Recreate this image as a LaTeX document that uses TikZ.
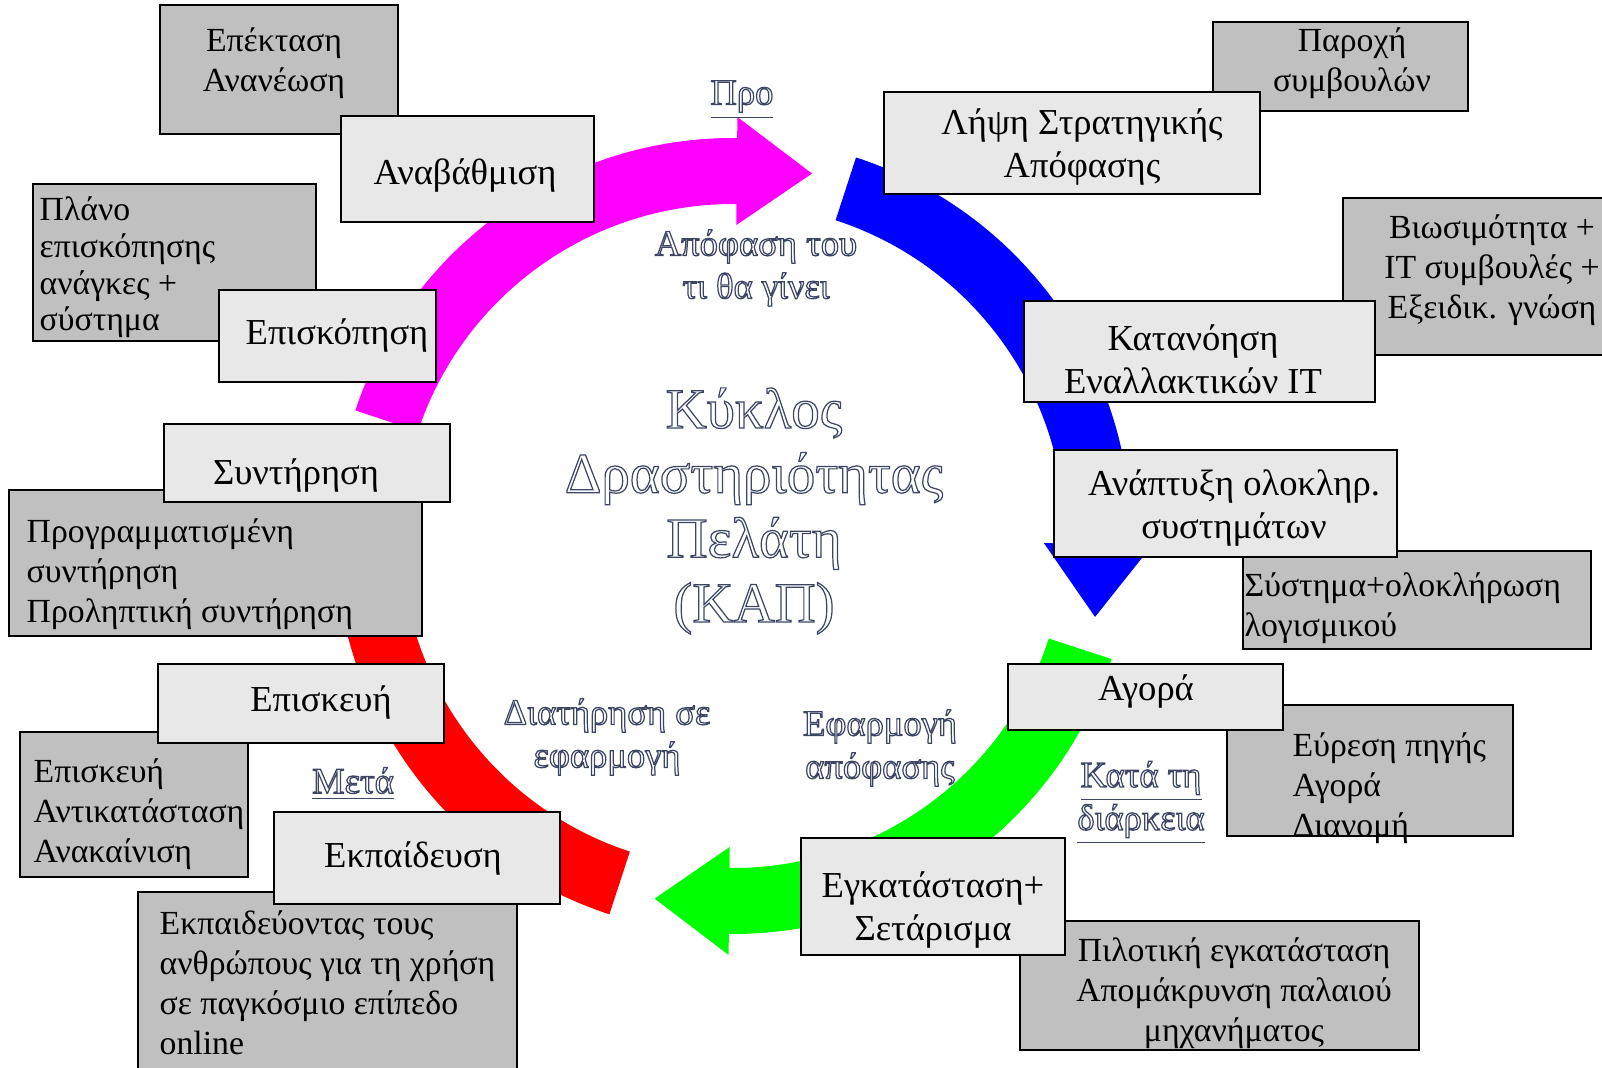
\documentclass[tikz,border=0pt]{standalone}
\usepackage{fontspec}
\setmainfont{Liberation Serif}
\usetikzlibrary{calc,positioning}
\definecolor{boxgrey}{RGB}{192,192,192}
\definecolor{boxlight}{RGB}{232,232,232}
\definecolor{rim}{RGB}{60,70,100}
\definecolor{ringmag}{RGB}{255,0,255}
\definecolor{ringblue}{RGB}{0,0,255}
\definecolor{ringgreen}{RGB}{0,255,0}
\definecolor{ringred}{RGB}{255,0,0}
\newcommand{\hollowon}{\special{pdf:literal direct 1 Tr 0.35 w}}
\newcommand{\hollowoff}{\special{pdf:literal direct 0 Tr}}

\begin{document}
\begin{tikzpicture}[
  greybox/.style={draw, line width=0.7pt, fill=boxgrey, inner sep=0pt},
  lightbox/.style={draw, line width=0.7pt, fill=boxlight, inner sep=0pt},
  greytxt/.style={font=\fontsize{9.6}{11.4}\selectfont, align=left, inner sep=0pt},
  lighttxt/.style={font=\fontsize{10.4}{12.2}\selectfont, align=center, inner sep=0pt},
  hollow/.style={font=\fontsize{10.4}{12.2}\selectfont, align=center, inner sep=0pt, text=rim}]
\useasboundingbox (0,0) rectangle (16.02,-10.68);
\coordinate (c) at (7.33,-5.36);
% ring of arrows
\foreach \col/\s/\b/\t in {ringmag/161.6/89.4/77.7, ringblue/72/-1.3/-12.6, ringgreen/-18/-90.6/-102.2}
  \fill[\col] ($(c)+(\s:3.98)$) arc[start angle=\s, end angle=\b, radius=3.98] -- ($(c)+(\b:4.19)$) -- ($(c)+(\t:3.71)$) -- ($(c)+(\b:3.11)$) -- ($(c)+(\b:3.32)$) arc[start angle=\b, end angle=\s, radius=3.32] -- cycle;
\fill[ringred] ($(c)+(251.9:3.98)$) arc[start angle=251.9, end angle=190, radius=3.98] -- ($(c)+(190:3.32)$) arc[start angle=190, end angle=251.9, radius=3.32] -- cycle;
% outer grey boxes
\foreach \n/\x/\y/\w/\h in {ext/2.79/-0.695/2.38/1.29, adv/13.405/-0.665/2.55/0.89, plan/1.745/-2.625/2.83/1.57, viab/14.815/-2.765/2.77/1.57, sched/2.155/-5.63/4.13/1.46, sw/14.17/-6.0/3.48/0.98, rep/1.34/-8.045/2.28/1.45, src/13.70/-7.705/2.86/1.31, teach/3.275/-9.91/3.79/1.98, pilot/12.195/-9.855/3.99/1.29}
  \node[greybox, minimum width=\w cm, minimum height=\h cm] (\n) at (\x,\y) {};
% steps on the ring
\foreach \n/\x/\y/\w/\h in {upg/4.675/-1.69/2.53/1.06, strat/10.72/-1.43/3.76/1.02, rev/3.275/-3.36/2.17/0.92, alt/11.995/-3.515/3.51/1.01, maint/3.07/-4.63/2.86/0.78, integ/12.255/-5.035/3.43/1.07, fix/3.01/-7.035/2.86/0.79, buy/11.455/-6.97/2.75/0.66, train/4.17/-8.58/2.86/0.92, inst/9.33/-8.965/2.64/1.17}
  \node[lightbox, minimum width=\w cm, minimum height=\h cm] (\n) at (\x,\y) {};
% texts of grey boxes
\node[greytxt, align=center] (ext-t) at (2.74,-0.63) {Επέκταση\\Ανανέωση};
\node[greytxt, align=center] (adv-t) at (13.52,-0.63) {Παροχή\\συμβουλών};
\node[greytxt, anchor=west, font=\fontsize{9.6}{10.4}\selectfont] (plan-t) at (0.39,-2.675) {Πλάνο\\επισκόπησης\\ανάγκες +\\σύστημα};
\node[greytxt, align=center] (viab-t) at (14.92,-2.70) {Βιωσιμότητα +\\IT συμβουλές +\\Εξειδικ. γνώση};
\node[greytxt, anchor=west] (sched-t) at (0.26,-5.74) {Προγραμματισμένη\\συντήρηση\\Προληπτική συντήρηση};
\node[greytxt, anchor=west] (sw-t) at (12.44,-6.08) {Σύστημα+ολοκλήρωση\\λογισμικού};
\node[greytxt, anchor=west] (rep-t) at (0.33,-8.14) {Επισκευή\\Αντικατάσταση\\Ανακαίνιση};
\node[greytxt, anchor=west] (src-t) at (12.92,-7.88) {Εύρεση πηγής\\Αγορά\\Διανομή};
\node[greytxt, anchor=west] (teach-t) at (1.59,-9.83) {Εκπαιδεύοντας τους\\ανθρώπους για τη χρήση\\σε παγκόσμιο επίπεδο\\online};
\node[greytxt, align=center] (pilot-t) at (12.34,-9.93) {Πιλοτική εγκατάσταση\\Απομάκρυνση παλαιού\\μηχανήματος};
% texts of steps
\node[lighttxt] (upg-t) at (4.65,-1.76) {Αναβάθμιση};
\node[lighttxt] (strat-t) at (10.82,-1.47) {Λήψη Στρατηγικής\\Απόφασης};
\node[lighttxt] (rev-t) at (3.37,-3.36) {Επισκόπηση};
\node[lighttxt] (alt-t) at (11.93,-3.59) {Κατανόηση\\Εναλλακτικών IT};
\node[lighttxt] (maint-t) at (2.96,-4.75) {Συντήρηση};
\node[lighttxt] (integ-t) at (12.34,-5.08) {Ανάπτυξη ολοκληρ.\\συστημάτων};
\node[lighttxt] (fix-t) at (3.21,-7.02) {Επισκευή};
\node[lighttxt] (buy-t) at (11.46,-6.91) {Αγορά};
\node[lighttxt] (train-t) at (4.13,-8.58) {Εκπαίδευση};
\node[lighttxt] (inst-t) at (9.33,-9.10) {Εγκατάσταση+\\Σετάρισμα};
% hollow labels inside the ring
\node[hollow] (pro) at (7.42,-1.00) {\hollowon\underline{Προ}\hollowoff};
\node[hollow] (decide) at (7.56,-2.68) {\hollowon Απόφαση του\\τι θα γίνει\hollowoff};
\node[hollow, font=\fontsize{16.2}{18.4}\selectfont] (title) at (7.54,-5.11) {\hollowon Κύκλος\\Δραστηριότητας\\Πελάτη\\(ΚΑΠ)\hollowoff};
\node[hollow] (keep) at (6.07,-7.37) {\hollowon Διατήρηση σε\\εφαρμογή\hollowoff};
\node[hollow] (apply) at (8.80,-7.48) {\hollowon Εφαρμογή\\απόφασης\hollowoff};
\node[hollow] (after) at (3.53,-7.84) {\hollowon\underline{Μετά}\hollowoff};
\node[hollow] (during) at (11.41,-8.03) {\hollowon\underline{Κατά τη}\\\underline{διάρκεια}\hollowoff};
\end{tikzpicture}
\end{document}
